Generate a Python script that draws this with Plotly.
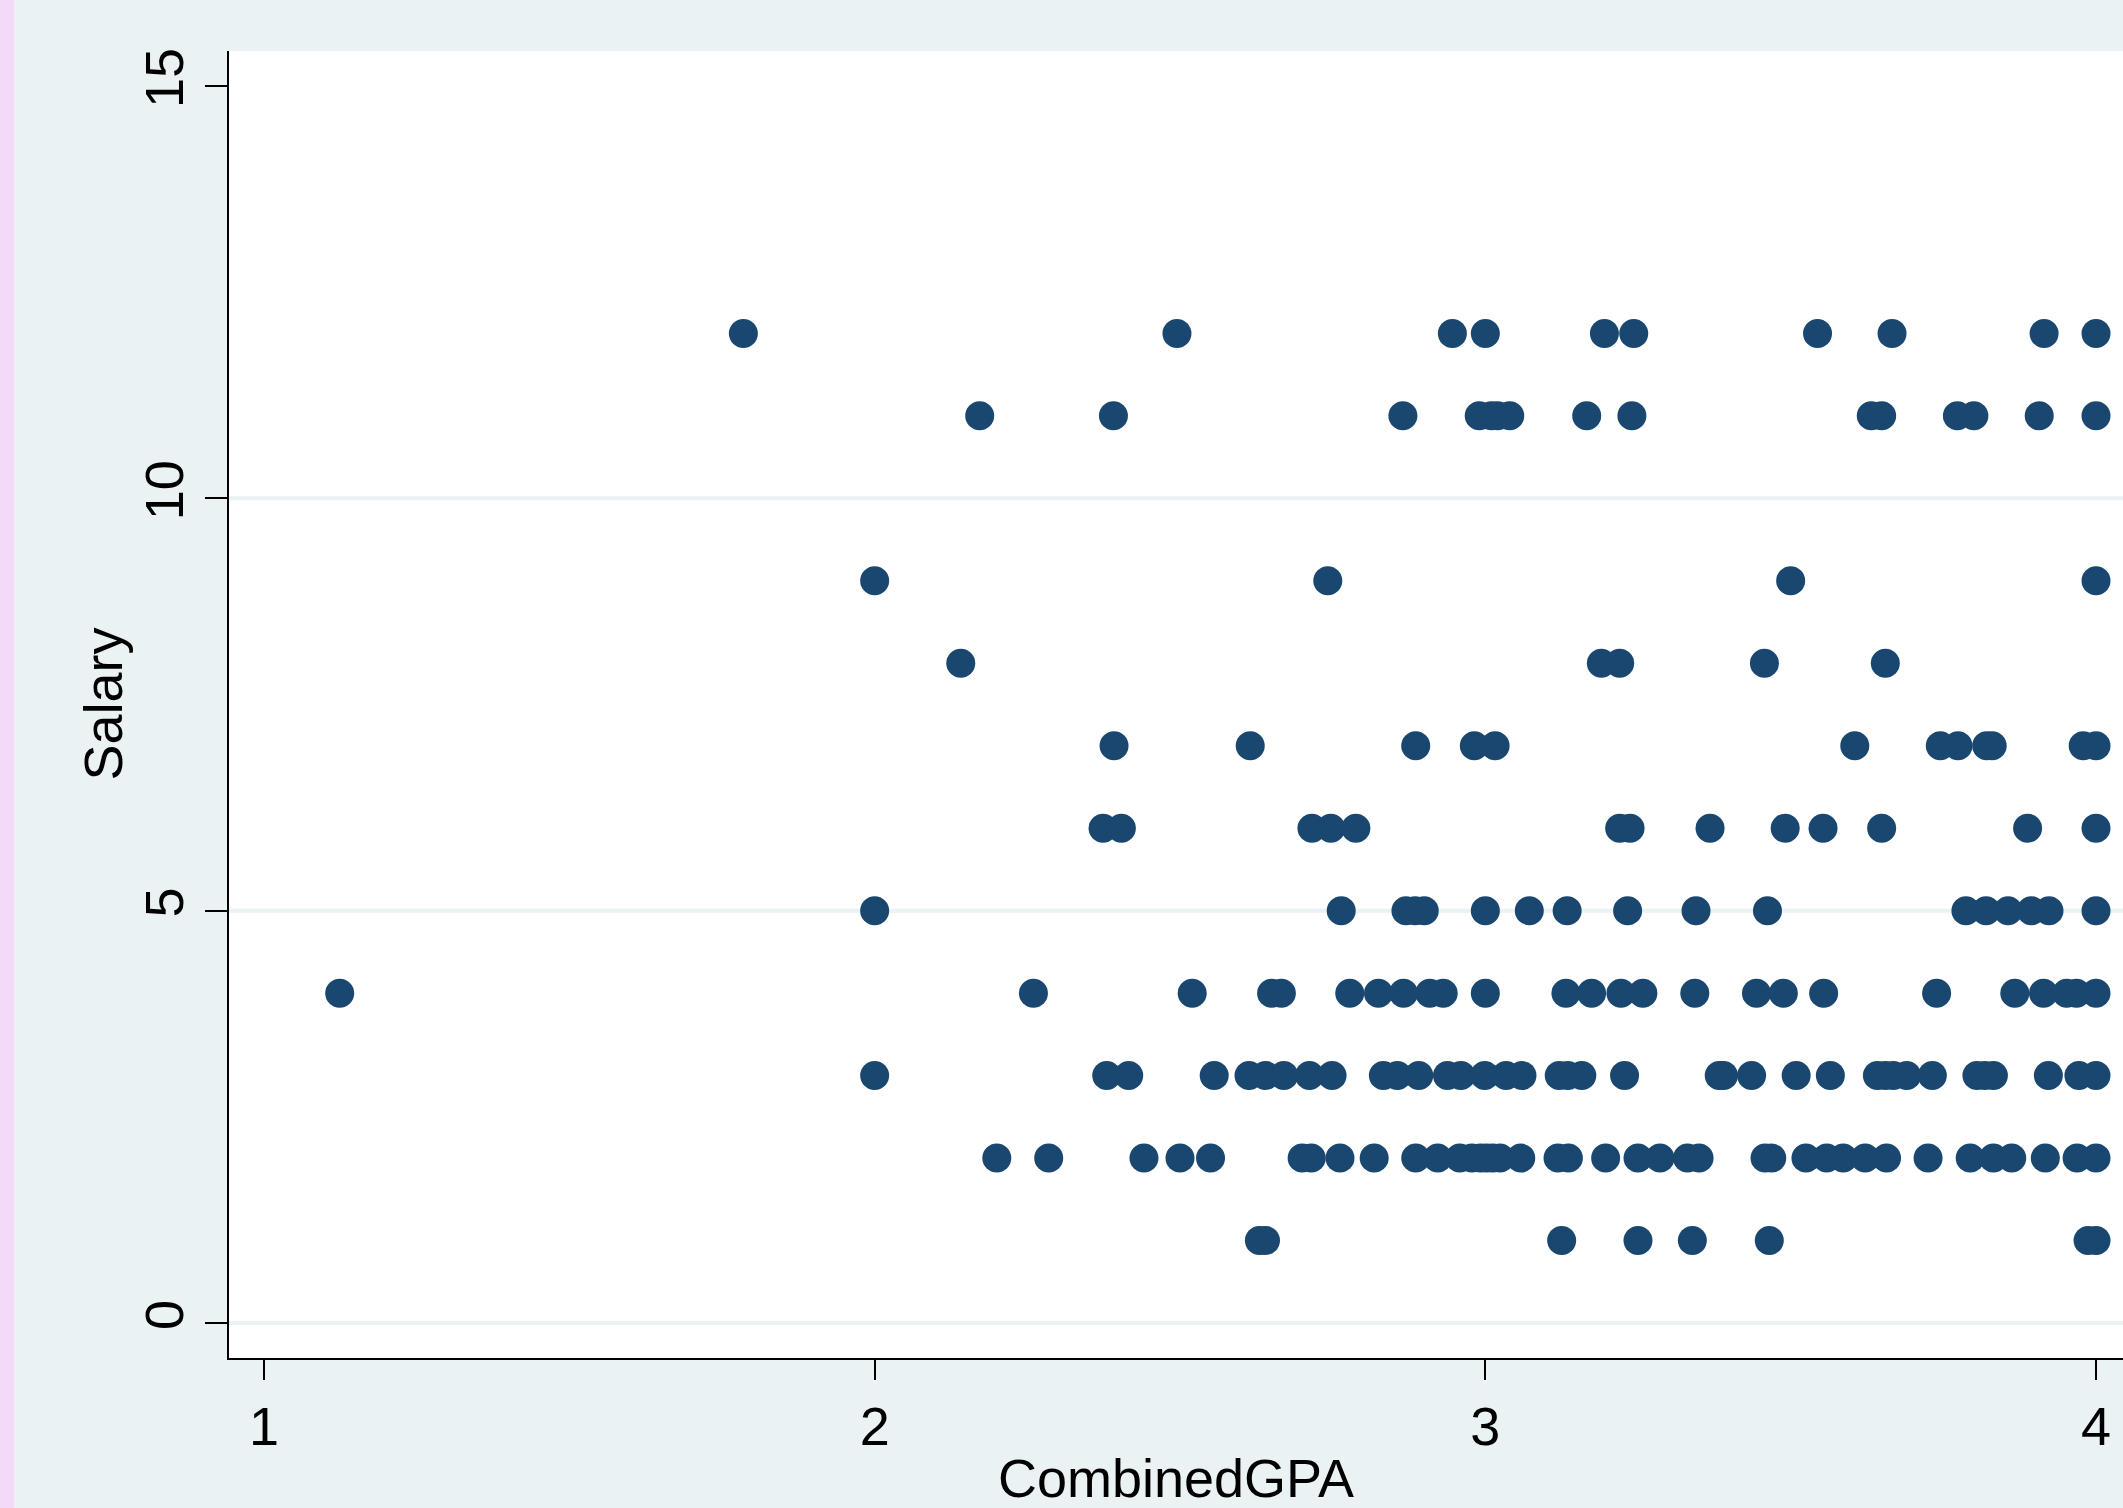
import plotly.graph_objects as go

# GPA values, grouped by salary level
gpa_s12 = [1.785, 2.495, 2.946, 3.000, 3.195, 3.243, 3.544, 3.666, 3.915, 4.000]
gpa_s11 = [2.172, 2.391, 2.865, 2.99, 3.01, 3.02, 3.04, 3.166, 3.240, 3.632, 3.649,
           3.773, 3.800, 3.907, 4.000]
gpa_s9 = [2.000, 2.742, 3.500, 4.000]
gpa_s8 = [2.141, 3.19, 3.22, 3.457, 3.655]
gpa_s7 = [2.392, 2.615, 2.886, 2.982, 3.016, 3.605, 3.745, 3.774, 3.821, 3.830,
          3.979, 4.000]
gpa_s6 = [2.374, 2.404, 2.716, 2.747, 2.788, 3.220, 3.237, 3.368, 3.491, 3.553,
          3.649, 3.888, 4.000]
gpa_s5 = [2.000, 2.764, 2.87, 2.885, 2.90, 3.000, 3.072, 3.134, 3.233, 3.345, 3.462,
          3.787, 3.820, 3.856, 3.894, 3.923, 4.000]
gpa_s4 = [1.124, 2.260, 2.520, 2.650, 2.666, 2.778, 2.825, 2.866, 2.909, 2.931,
          3.000, 3.132, 3.174, 3.222, 3.258, 3.343, 3.444, 3.488, 3.554, 3.739,
          3.867, 3.914, 3.952, 3.968, 4.000]
gpa_s3 = [2.000, 2.380, 2.416, 2.556, 2.613, 2.640, 2.670, 2.712, 2.749, 2.833,
          2.856, 2.891, 2.938, 2.960, 2.999, 3.034, 3.060, 3.121, 3.135, 3.158,
          3.228, 3.383, 3.390, 3.436, 3.509, 3.565, 3.642, 3.655, 3.668, 3.690,
          3.732, 3.805, 3.818, 3.832, 3.922, 3.972, 4.000]
gpa_s2 = [2.200, 2.285, 2.441, 2.500, 2.550, 2.700, 2.715, 2.762, 2.818, 2.886,
          2.922, 2.958, 2.978, 2.992, 3.002, 3.012, 3.024, 3.058, 3.119, 3.136,
          3.197, 3.250, 3.286, 3.331, 3.350, 3.458, 3.469, 3.525, 3.559, 3.586,
          3.622, 3.657, 3.725, 3.794, 3.832, 3.862, 3.917, 3.969, 4.000]
gpa_s1 = [2.63, 2.64, 3.125, 3.250, 3.339, 3.465, 3.987, 4.000]

salary_levels = [12, 11, 9, 8, 7, 6, 5, 4, 3, 2, 1]
gpa_groups = [gpa_s12, gpa_s11, gpa_s9, gpa_s8, gpa_s7, gpa_s6, gpa_s5, gpa_s4,
              gpa_s3, gpa_s2, gpa_s1]

x_ticks = [1, 2, 3, 4]
y_ticks = [0, 5, 10, 15]
y_grid = [0, 5, 10]

gpa = []
salary = []
for lvl, grp in zip(salary_levels, gpa_groups):
    gpa.extend(grp)
    salary.extend([lvl] * len(grp))

FONT = "Liberation Sans, Arial, sans-serif"
BG = "#EAF2F3"
NAVY = "#1A476F"
PLOT_W = 2123 - 229  # plot area width in px

fig = go.Figure()
fig.add_trace(go.Scatter(
    x=gpa, y=salary, mode="markers",
    marker=dict(size=29, color=NAVY, line=dict(width=0)),
    showlegend=False, cliponaxis=False,
))

shapes = []
for g in y_grid:
    shapes.append(dict(type="line", xref="paper", yref="y", x0=0, x1=1, y0=g, y1=g,
                       line=dict(color=BG, width=4), layer="below"))
# thin pink strip at far left edge
shapes.append(dict(type="rect", xref="paper", yref="paper",
                   x0=-229 / PLOT_W, x1=(14 - 229) / PLOT_W, y0=-0.3, y1=1.3,
                   fillcolor="#F3DAF9", line=dict(width=0), layer="above"))

fig.update_layout(
    width=2123, height=1508,
    margin=dict(l=229, r=0, t=51, b=150, autoexpand=False),
    paper_bgcolor=BG, plot_bgcolor="white",
    font=dict(family=FONT, size=54, color="black"),
    shapes=shapes,
    annotations=[dict(text="Salary", xref="paper", yref="paper",
                      x=(102 - 229) / PLOT_W, y=0.5, xanchor="center", yanchor="middle",
                      textangle=-90, showarrow=False, font=dict(size=54))],
    xaxis=dict(
        range=[0.9427, 4.0442], tickmode="array", tickvals=x_ticks,
        ticktext=[str(v) for v in x_ticks],
        showgrid=False, zeroline=False,
        showline=True, linecolor="black", linewidth=2,
        ticks="outside", ticklen=20, tickwidth=2, tickcolor="black",
        tickfont=dict(size=54),
        title=dict(text="CombinedGPA", font=dict(size=54), standoff=10),
    ),
    yaxis=dict(
        range=[-0.424, 15.424], tickmode="array", tickvals=y_ticks,
        ticktext=[str(v) for v in y_ticks], tickangle=-90,
        showgrid=False, zeroline=False,
        showline=True, linecolor="black", linewidth=2,
        ticks="outside", ticklen=22, tickwidth=2, tickcolor="black",
        tickfont=dict(size=54),
    ),
)

fig.write_html("out.html",
               config={"displayModeBar": False},
               post_script="document.body.style.margin='0';document.body.style.overflow='hidden';")
